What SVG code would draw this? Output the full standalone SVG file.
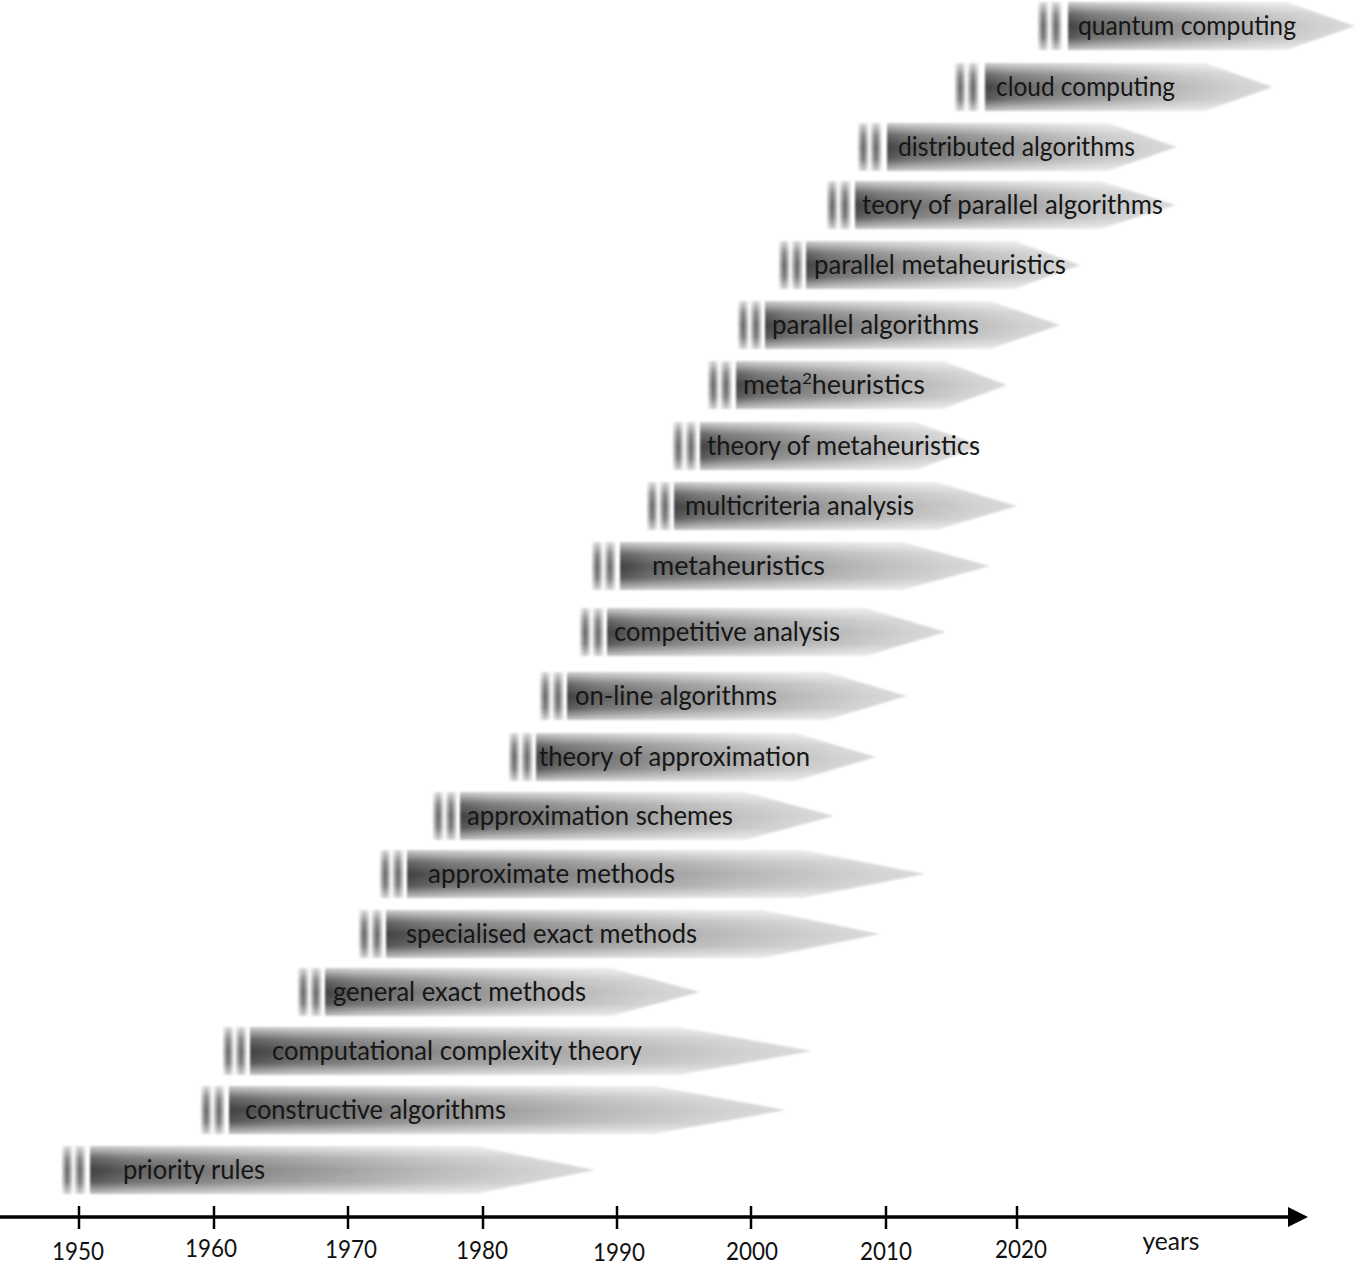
<svg xmlns="http://www.w3.org/2000/svg" width="1359" height="1281" viewBox="0 0 1359 1281">
<defs>
<linearGradient id="gh" x1="0" y1="0" x2="1" y2="0">
<stop offset="0" stop-color="#404040"/>
<stop offset="0.08" stop-color="#5e5e5e"/>
<stop offset="0.35" stop-color="#8c8c8c"/>
<stop offset="0.65" stop-color="#b6b6b6"/>
<stop offset="0.88" stop-color="#d0d0d0"/>
<stop offset="1" stop-color="#dadada"/>
</linearGradient>
<linearGradient id="gv" x1="0" y1="0" x2="0" y2="1">
<stop offset="0" stop-color="#fff" stop-opacity="0.75"/>
<stop offset="0.25" stop-color="#fff" stop-opacity="0.2"/>
<stop offset="0.5" stop-color="#fff" stop-opacity="0"/>
<stop offset="0.75" stop-color="#fff" stop-opacity="0.12"/>
<stop offset="1" stop-color="#fff" stop-opacity="0.7"/>
</linearGradient>
<linearGradient id="gs" x1="0" y1="0" x2="1" y2="0">
<stop offset="0" stop-color="#d4d4d4"/>
<stop offset="0.5" stop-color="#5a5a5a"/>
<stop offset="1" stop-color="#d4d4d4"/>
</linearGradient>
<filter id="soft" x="-5%" y="-20%" width="110%" height="140%">
<feGaussianBlur stdDeviation="1"/>
</filter>
</defs>
<style>
.b{fill:url(#gh)}
.sh{fill:url(#gv)}
.s{fill:url(#gs)}
.bar{filter:url(#soft)}
.t{font-family:Lato,"Open Sans","Liberation Sans",sans-serif;font-size:26px;fill:#161616}
.ax{font-family:Lato,"Open Sans","Liberation Sans",sans-serif;font-size:25px;fill:#111}
</style>
<rect width="1359" height="1281" fill="#fff"/>

<g id="n1"><g class="bar"><rect class="s" x="1038" y="2" width="10.5" height="48"/><rect class="s" x="1050.5" y="2" width="11" height="48"/><rect class="sh" x="1038" y="2" width="23.5" height="48"/><path class="b" d="M1068 2H1286L1355 26L1286 50H1068Z"/><path class="sh" d="M1068 2H1286L1355 26L1286 50H1068Z"/></g><text class="t" x="1078" y="35" textLength="218" lengthAdjust="spacingAndGlyphs">quantum computing</text></g>

<g id="n2"><g class="bar"><rect class="s" x="955" y="63" width="10.5" height="48"/><rect class="s" x="967.5" y="63" width="11" height="48"/><rect class="sh" x="955" y="63" width="23.5" height="48"/><path class="b" d="M985 63H1204L1273 87L1204 111H985Z"/><path class="sh" d="M985 63H1204L1273 87L1204 111H985Z"/></g><text class="t" x="996" y="96" textLength="179" lengthAdjust="spacingAndGlyphs">cloud computing</text></g>

<g id="n3"><g class="bar"><rect class="s" x="858" y="123" width="10.5" height="48"/><rect class="s" x="870.5" y="123" width="11" height="48"/><rect class="sh" x="858" y="123" width="23.5" height="48"/><path class="b" d="M887 123H1107L1177 147L1107 171H887Z"/><path class="sh" d="M887 123H1107L1177 147L1107 171H887Z"/></g><text class="t" x="898" y="156" textLength="237" lengthAdjust="spacingAndGlyphs">distributed algorithms</text></g>

<g id="n4"><g class="bar"><rect class="s" x="827" y="181" width="10.5" height="48"/><rect class="s" x="839.5" y="181" width="11" height="48"/><rect class="sh" x="827" y="181" width="23.5" height="48"/><path class="b" d="M855 181H1099L1176 205L1099 229H855Z"/><path class="sh" d="M855 181H1099L1176 205L1099 229H855Z"/></g><text class="t" x="862" y="214" textLength="301" lengthAdjust="spacingAndGlyphs">teory of parallel algorithms</text></g>

<g id="n5"><g class="bar"><rect class="s" x="779" y="241" width="10.5" height="48"/><rect class="s" x="791.5" y="241" width="11" height="48"/><rect class="sh" x="779" y="241" width="23.5" height="48"/><path class="b" d="M806 241H1014L1080 265L1014 289H806Z"/><path class="sh" d="M806 241H1014L1080 265L1014 289H806Z"/></g><text class="t" x="814" y="274" textLength="252" lengthAdjust="spacingAndGlyphs">parallel metaheuristics</text></g>

<g id="n6"><g class="bar"><rect class="s" x="738" y="301" width="10.5" height="48"/><rect class="s" x="750.5" y="301" width="11" height="48"/><rect class="sh" x="738" y="301" width="23.5" height="48"/><path class="b" d="M765 301H989L1060 325L989 349H765Z"/><path class="sh" d="M765 301H989L1060 325L989 349H765Z"/></g><text class="t" x="772" y="334" textLength="207" lengthAdjust="spacingAndGlyphs">parallel algorithms</text></g>

<g id="n7"><g class="bar"><rect class="s" x="708" y="361" width="10.5" height="48"/><rect class="s" x="720.5" y="361" width="11" height="48"/><rect class="sh" x="708" y="361" width="23.5" height="48"/><path class="b" d="M736 361H942L1007 385L942 409H736Z"/><path class="sh" d="M736 361H942L1007 385L942 409H736Z"/></g><text class="t" x="743" y="394" textLength="182" lengthAdjust="spacingAndGlyphs">meta<tspan font-size="16" dy="-10">2</tspan><tspan dy="10">heuristics</tspan></text></g>

<g id="n8"><g class="bar"><rect class="s" x="673" y="422" width="10.5" height="48"/><rect class="s" x="685.5" y="422" width="11" height="48"/><rect class="sh" x="673" y="422" width="23.5" height="48"/><path class="b" d="M700 422H914L982 446L914 470H700Z"/><path class="sh" d="M700 422H914L982 446L914 470H700Z"/></g><text class="t" x="707" y="455" textLength="273" lengthAdjust="spacingAndGlyphs">theory of metaheuristics</text></g>

<g id="n9"><g class="bar"><rect class="s" x="647" y="482" width="10.5" height="48"/><rect class="s" x="659.5" y="482" width="11" height="48"/><rect class="sh" x="647" y="482" width="23.5" height="48"/><path class="b" d="M674 482H935L1017 506L935 530H674Z"/><path class="sh" d="M674 482H935L1017 506L935 530H674Z"/></g><text class="t" x="685" y="515" textLength="229" lengthAdjust="spacingAndGlyphs">multicriteria analysis</text></g>

<g id="n10"><g class="bar"><rect class="s" x="592" y="542" width="10.5" height="48"/><rect class="s" x="604.5" y="542" width="11" height="48"/><rect class="sh" x="592" y="542" width="23.5" height="48"/><path class="b" d="M620 542H901L990 566L901 590H620Z"/><path class="sh" d="M620 542H901L990 566L901 590H620Z"/></g><text class="t" x="652" y="575" textLength="173" lengthAdjust="spacingAndGlyphs">metaheuristics</text></g>

<g id="n11"><g class="bar"><rect class="s" x="580" y="608" width="10.5" height="48"/><rect class="s" x="592.5" y="608" width="11" height="48"/><rect class="sh" x="580" y="608" width="23.5" height="48"/><path class="b" d="M607 608H865L946 632L865 656H607Z"/><path class="sh" d="M607 608H865L946 632L865 656H607Z"/></g><text class="t" x="614" y="641" textLength="226" lengthAdjust="spacingAndGlyphs">competitive analysis</text></g>

<g id="n12"><g class="bar"><rect class="s" x="540" y="672" width="10.5" height="48"/><rect class="s" x="552.5" y="672" width="11" height="48"/><rect class="sh" x="540" y="672" width="23.5" height="48"/><path class="b" d="M567 672H825L907 696L825 720H567Z"/><path class="sh" d="M567 672H825L907 696L825 720H567Z"/></g><text class="t" x="575" y="705" textLength="202" lengthAdjust="spacingAndGlyphs">on-line algorithms</text></g>

<g id="n13"><g class="bar"><rect class="s" x="509" y="733" width="10.5" height="48"/><rect class="s" x="521.5" y="733" width="11" height="48"/><rect class="sh" x="509" y="733" width="23.5" height="48"/><path class="b" d="M536 733H794L876 757L794 781H536Z"/><path class="sh" d="M536 733H794L876 757L794 781H536Z"/></g><text class="t" x="539" y="766" textLength="271" lengthAdjust="spacingAndGlyphs">theory of approximation</text></g>

<g id="n14"><g class="bar"><rect class="s" x="433" y="792" width="10.5" height="48"/><rect class="s" x="445.5" y="792" width="11" height="48"/><rect class="sh" x="433" y="792" width="23.5" height="48"/><path class="b" d="M460 792H744L834 816L744 840H460Z"/><path class="sh" d="M460 792H744L834 816L744 840H460Z"/></g><text class="t" x="467" y="825" textLength="266" lengthAdjust="spacingAndGlyphs">approximation schemes</text></g>

<g id="n15"><g class="bar"><rect class="s" x="380" y="850" width="10.5" height="48"/><rect class="s" x="392.5" y="850" width="11" height="48"/><rect class="sh" x="380" y="850" width="23.5" height="48"/><path class="b" d="M407 850H801L925 874L801 898H407Z"/><path class="sh" d="M407 850H801L925 874L801 898H407Z"/></g><text class="t" x="428" y="883" textLength="247" lengthAdjust="spacingAndGlyphs">approximate methods</text></g>

<g id="n16"><g class="bar"><rect class="s" x="359" y="910" width="10.5" height="48"/><rect class="s" x="371.5" y="910" width="11" height="48"/><rect class="sh" x="359" y="910" width="23.5" height="48"/><path class="b" d="M386 910H761L880 934L761 958H386Z"/><path class="sh" d="M386 910H761L880 934L761 958H386Z"/></g><text class="t" x="406" y="943" textLength="291" lengthAdjust="spacingAndGlyphs">specialised exact methods</text></g>

<g id="n17"><g class="bar"><rect class="s" x="298" y="968" width="10.5" height="48"/><rect class="s" x="310.5" y="968" width="11" height="48"/><rect class="sh" x="298" y="968" width="23.5" height="48"/><path class="b" d="M325 968H610L700 992L610 1016H325Z"/><path class="sh" d="M325 968H610L700 992L610 1016H325Z"/></g><text class="t" x="333" y="1001" textLength="253" lengthAdjust="spacingAndGlyphs">general exact methods</text></g>

<g id="n18"><g class="bar"><rect class="s" x="223" y="1027" width="10.5" height="48"/><rect class="s" x="235.5" y="1027" width="11" height="48"/><rect class="sh" x="223" y="1027" width="23.5" height="48"/><path class="b" d="M250 1027H677L812 1051L677 1075H250Z"/><path class="sh" d="M250 1027H677L812 1051L677 1075H250Z"/></g><text class="t" x="272" y="1060" textLength="370" lengthAdjust="spacingAndGlyphs">computational complexity theory</text></g>

<g id="n19"><g class="bar"><rect class="s" x="201" y="1086" width="10.5" height="48"/><rect class="s" x="213.5" y="1086" width="11" height="48"/><rect class="sh" x="201" y="1086" width="23.5" height="48"/><path class="b" d="M229 1086H652L786 1110L652 1134H229Z"/><path class="sh" d="M229 1086H652L786 1110L652 1134H229Z"/></g><text class="t" x="245" y="1119" textLength="261" lengthAdjust="spacingAndGlyphs">constructive algorithms</text></g>

<g id="n20"><g class="bar"><rect class="s" x="62" y="1146" width="10.5" height="48"/><rect class="s" x="74.5" y="1146" width="11" height="48"/><rect class="sh" x="62" y="1146" width="23.5" height="48"/><path class="b" d="M90 1146H474L595 1170L474 1194H90Z"/><path class="sh" d="M90 1146H474L595 1170L474 1194H90Z"/></g><text class="t" x="123" y="1179" textLength="142" lengthAdjust="spacingAndGlyphs">priority rules</text></g>

<g id="axis">
<line x1="0" y1="1217" x2="1292" y2="1217" stroke="#000" stroke-width="3.5"/>
<polygon points="1288,1207 1308,1217 1288,1227" fill="#000"/>
<g stroke="#000" stroke-width="2.5">
<line x1="79" y1="1206" x2="79" y2="1229"/>
<line x1="214" y1="1206" x2="214" y2="1229"/>
<line x1="348" y1="1206" x2="348" y2="1229"/>
<line x1="483" y1="1206" x2="483" y2="1229"/>
<line x1="617" y1="1206" x2="617" y2="1229"/>
<line x1="751" y1="1206" x2="751" y2="1229"/>
<line x1="886" y1="1206" x2="886" y2="1229"/>
<line x1="1017" y1="1206" x2="1017" y2="1229"/>
</g>
<g class="ax" text-anchor="middle">
<text x="78" y="1260" textLength="52" lengthAdjust="spacingAndGlyphs">1950</text>
<text x="211" y="1257" textLength="52" lengthAdjust="spacingAndGlyphs">1960</text>
<text x="351" y="1258" textLength="52" lengthAdjust="spacingAndGlyphs">1970</text>
<text x="482" y="1259" textLength="52" lengthAdjust="spacingAndGlyphs">1980</text>
<text x="619" y="1261" textLength="52" lengthAdjust="spacingAndGlyphs">1990</text>
<text x="752" y="1260" textLength="52" lengthAdjust="spacingAndGlyphs">2000</text>
<text x="886" y="1260" textLength="52" lengthAdjust="spacingAndGlyphs">2010</text>
<text x="1021" y="1258" textLength="52" lengthAdjust="spacingAndGlyphs">2020</text>
<text x="1171" y="1250" textLength="57" lengthAdjust="spacingAndGlyphs">years</text>
</g>
</g>
</svg>
